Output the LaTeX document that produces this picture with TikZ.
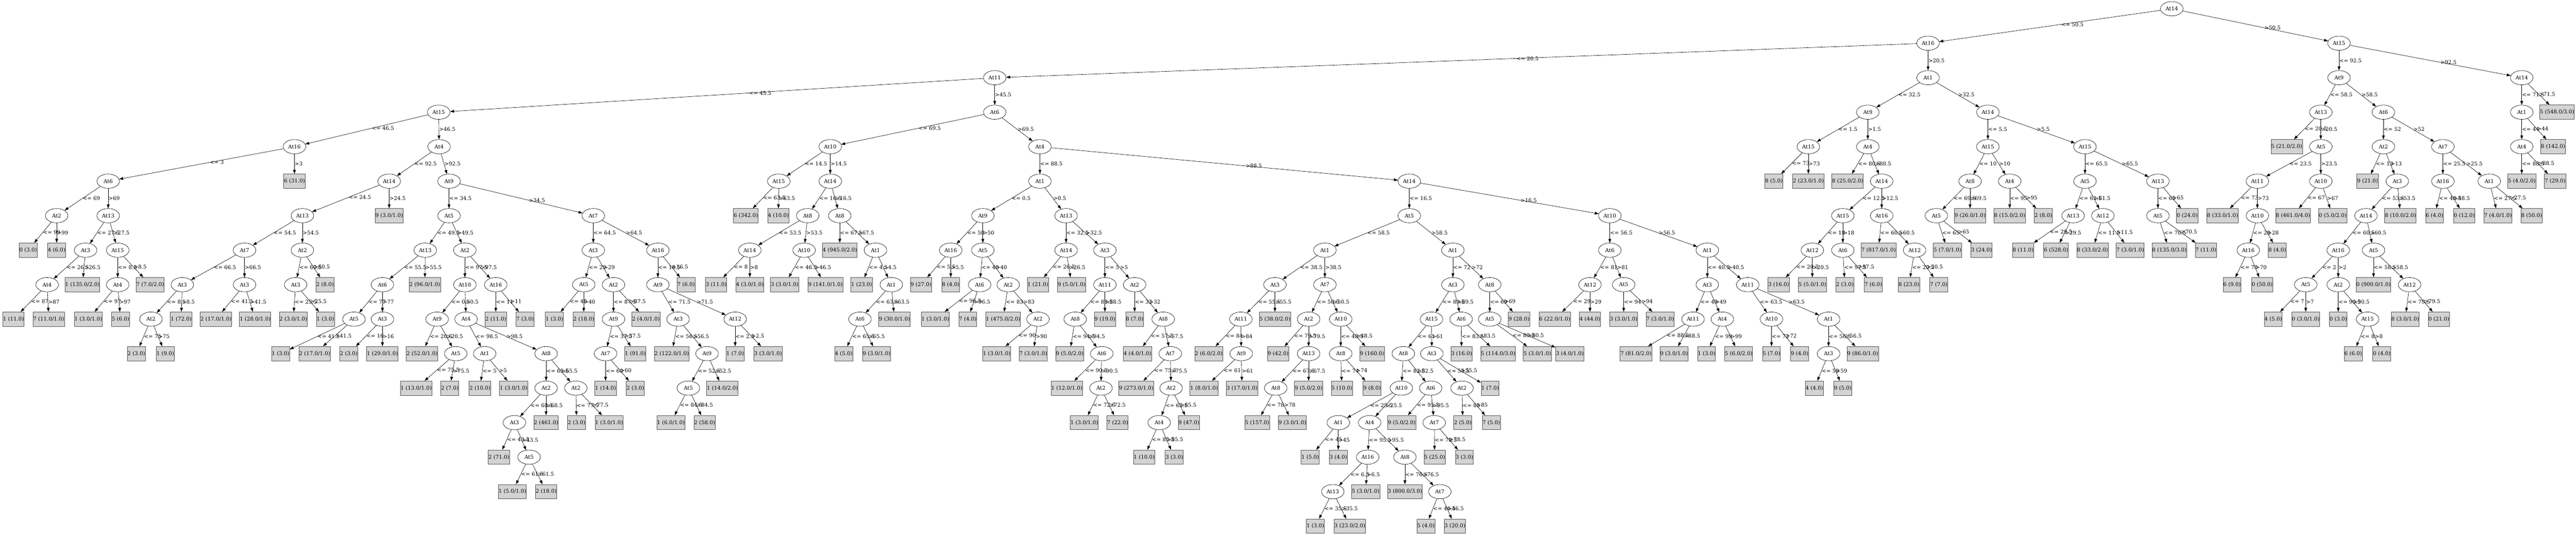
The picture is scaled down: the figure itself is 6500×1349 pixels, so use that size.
\documentclass[tikz,border=0pt]{standalone}
\usepackage{fontspec}
\setmainfont{DejaVu Serif}
\newfontfamily\timesf{Liberation Serif}
\usetikzlibrary{arrows.meta,shapes.geometric}
\definecolor{tgray}{HTML}{D3D3D3}
\definecolor{tborder}{HTML}{555555}
\newlength\tbw
\tikzset{
 tfont/.style={font=\fontsize{13.3pt}{15pt}\selectfont},
 tnode/.style={ellipse,draw=black,line width=0.8pt,minimum width=57pt,minimum height=36pt,inner sep=0pt,tfont},
 tleaf/.style={rectangle,draw=tborder,line width=1.1pt,fill=tgray,minimum height=36pt,inner xsep=0.5pt,inner ysep=0pt,tfont},
 tedge/.style={draw=black,line width=0.8pt,-{Triangle[length=10pt,width=7pt]}},
 tlab/.style={anchor=west,inner sep=0.5pt,tfont},
}
\newcommand\TN[4]{\node[tnode] (#1) at (#2pt,{-(22+87*#3)*1pt}) {#4};}
\newcommand\TL[4]{\settowidth\tbw{\timesf\fontsize{14pt}{16pt}\selectfont #4}\node[tleaf,minimum width=\tbw+16pt] (#1) at (#2pt,{-(22+87*#3)*1pt}) {#4};}
\newcommand\TE[3]{\draw[tedge] (#1) -- node[tlab]{#3} (#2);}
\newcommand\TEP[4]{\draw[tedge] (#1) -- node[tlab,pos=#4]{#3} (#2);}
\begin{document}
\begin{tikzpicture}
\fill[white] (0,0) rectangle (6500pt,-1349pt);
\useasboundingbox (0,0) rectangle (6500pt,-1349pt);
% ---------------- nodes ----------------
\TN{r}{5480}{0}{At14}
\TN{a}{4865}{1}{At16}
\TN{a1}{2510}{2}{At11}
\TN{b}{1107}{3}{At15}
\TN{c}{743}{4}{At16}
\TN{d}{273}{5}{At6}
\TN{d1}{143}{6}{At2}
\TL{d1a}{71}{7}{0 (3.0)}
\TL{d1b}{143}{7}{4 (6.0)}
\TN{d2}{273}{6}{At13}
\TN{d2a}{216}{7}{At3}
\TN{d2a1}{119}{8}{At4}
\TL{d2a1a}{34}{9}{1 (11.0)}
\TL{d2a1b}{123}{9}{7 (11.0/1.0)}
\TL{d2a2}{208}{8}{1 (135.0/2.0)}
\TN{d2b}{297}{7}{At15}
\TN{d2b1}{297}{8}{At4}
\TL{d2b1a}{223}{9}{1 (3.0/1.0)}
\TL{d2b1b}{304}{9}{5 (6.0)}
\TL{d2b2}{379}{8}{7 (7.0/2.0)}
\TL{c2}{743}{5}{6 (31.0)}
\TN{e}{1108}{4}{At4}
\TN{f}{982}{5}{At14}
\TN{g}{763}{6}{At13}
\TN{g1}{617}{7}{At7}
\TN{g1a}{460}{8}{At3}
\TN{g1a1}{381}{9}{At2}
\TL{g1a1a}{344}{10}{2 (3.0)}
\TL{g1a1b}{417}{10}{1 (9.0)}
\TL{g1a2}{457}{9}{1 (72.0)}
\TN{g1b}{617}{8}{At3}
\TL{g1b1}{545}{9}{2 (17.0/1.0)}
\TL{g1b2}{644}{9}{1 (28.0/1.0)}
\TN{g2}{763}{7}{At2}
\TN{g2a}{746}{8}{At3}
\TL{g2a1}{740}{9}{2 (3.0/1.0)}
\TL{g2a2}{821}{9}{1 (3.0)}
\TL{g2b}{820}{8}{2 (8.0)}
\TL{f2}{982}{6}{9 (3.0/1.0)}
\TN{h}{1133}{5}{At9}
\TN{i}{1133}{6}{At5}
\TN{j}{1073}{7}{At13}
\TN{k}{965}{8}{At6}
\TN{k1}{893}{9}{At5}
\TL{k1a}{708}{10}{1 (3.0)}
\TL{k1b}{794}{10}{2 (17.0/1.0)}
\TN{k2}{965}{9}{At3}
\TL{k2a}{880}{10}{2 (3.0)}
\TL{k2b}{965}{10}{1 (29.0/1.0)}
\TL{j2}{1072}{8}{2 (96.0/1.0)}
\TN{l}{1173}{7}{At2}
\TN{m}{1173}{8}{At10}
\TN{m1}{1103}{9}{At9}
\TL{m1a}{1065}{10}{2 (52.0/1.0)}
\TN{m1b}{1150}{10}{At5}
\TL{m1b1}{1050}{11}{1 (13.0/1.0)}
\TL{m1b2}{1135}{11}{2 (7.0)}
\TN{m2}{1176}{9}{At4}
\TN{m2a}{1223}{10}{At1}
\TL{m2a1}{1211}{11}{2 (10.0)}
\TL{m2a2}{1296}{11}{1 (3.0/1.0)}
\TN{m2b}{1378}{10}{At8}
\TN{m2b1}{1378}{11}{At2}
\TN{m2b1a}{1298}{12}{At3}
\TL{m2b1a1}{1259}{13}{2 (71.0)}
\TN{m2b1a2}{1335}{13}{At5}
\TL{m2b1a2a}{1293}{14}{1 (5.0/1.0)}
\TL{m2b1a2b}{1378}{14}{2 (18.0)}
\TL{m2b1b}{1378}{12}{2 (461.0)}
\TN{m2b2}{1453}{11}{At2}
\TL{m2b2a}{1455}{12}{2 (3.0)}
\TL{m2b2b}{1537}{12}{1 (3.0/1.0)}
\TN{l2}{1251}{8}{At16}
\TL{l2a}{1251}{9}{2 (11.0)}
\TL{l2b}{1325}{9}{7 (3.0)}
\TN{n}{1497}{6}{At7}
\TN{n1}{1497}{7}{At3}
\TN{n1a}{1473}{8}{At5}
\TL{n1a1}{1399}{9}{1 (3.0)}
\TL{n1a2}{1473}{9}{2 (18.0)}
\TN{n1b}{1548}{8}{At2}
\TN{n1b1}{1548}{9}{At9}
\TN{n1b1a}{1528}{10}{At7}
\TL{n1b1a1}{1528}{11}{1 (14.0)}
\TL{n1b1a2}{1603}{11}{2 (3.0)}
\TL{n1b1b}{1603}{10}{1 (91.0)}
\TL{n1b2}{1630}{9}{2 (4.0/1.0)}
\TN{n2}{1660}{7}{At16}
\TN{n2a}{1660}{8}{At9}
\TN{n2a1}{1711}{9}{At3}
\TL{n2a1a}{1695}{10}{2 (122.0/1.0)}
\TN{n2a1b}{1784}{10}{At9}
\TN{n2a1b1}{1737}{11}{At5}
\TL{n2a1b1a}{1693}{12}{1 (6.0/1.0)}
\TL{n2a1b1b}{1778}{12}{2 (58.0)}
\TL{n2a1b2}{1823}{11}{1 (14.0/2.0)}
\TN{n2a2}{1855}{9}{At12}
\TL{n2a2a}{1855}{10}{1 (7.0)}
\TL{n2a2b}{1938}{10}{3 (3.0/1.0)}
\TL{n2b}{1731}{8}{7 (6.0)}
\TN{o}{2510}{3}{At6}
\TN{p}{2095}{4}{At10}
\TN{p1}{1965}{5}{At15}
\TL{p1a}{1882}{6}{6 (342.0)}
\TL{p1b}{1964}{6}{4 (10.0)}
\TN{p2}{2095}{5}{At14}
\TN{p2a}{2038}{6}{At8}
\TN{p2a1}{1892}{7}{At14}
\TL{p2a1a}{1807}{8}{3 (11.0)}
\TL{p2a1b}{1892}{8}{4 (3.0/1.0)}
\TN{p2a2}{2029}{7}{At10}
\TL{p2a2a}{1980}{8}{3 (3.0/1.0)}
\TL{p2a2b}{2083}{8}{9 (141.0/1.0)}
\TN{p2b}{2119}{6}{At8}
\TL{p2b1}{2119}{7}{4 (945.0/2.0)}
\TN{p2b2}{2209}{7}{At1}
\TL{p2b2a}{2174}{8}{1 (23.0)}
\TN{p2b2b}{2249}{8}{At1}
\TN{p2b2b1}{2170}{9}{At6}
\TL{p2b2b1a}{2129}{10}{4 (5.0)}
\TL{p2b2b1b}{2212}{10}{9 (3.0/1.0)}
\TL{p2b2b2}{2257}{9}{9 (30.0/1.0)}
\TN{q}{2624}{4}{At4}
\TN{q1}{2624}{5}{At1}
\TN{q1a}{2480}{6}{At9}
\TN{q1a1}{2399}{7}{At16}
\TL{q1a1a}{2324}{8}{9 (27.0)}
\TL{q1a1b}{2399}{8}{8 (4.0)}
\TN{q1a2}{2480}{7}{At5}
\TN{q1a2a}{2472}{8}{At6}
\TL{q1a2a1}{2360}{9}{1 (3.0/1.0)}
\TL{q1a2a2}{2442}{9}{7 (4.0)}
\TN{q1a2b}{2544}{8}{At2}
\TL{q1a2b1}{2531}{9}{1 (475.0/2.0)}
\TN{q1a2b2}{2619}{9}{At2}
\TL{q1a2b2a}{2515}{10}{1 (3.0/1.0)}
\TL{q1a2b2b}{2607}{10}{7 (3.0/1.0)}
\TN{q1b}{2690}{6}{At13}
\TN{q1b1}{2690}{7}{At14}
\TL{q1b1a}{2619}{8}{1 (21.0)}
\TL{q1b1b}{2704}{8}{9 (5.0/1.0)}
\TN{q1b2}{2788}{7}{At3}
\TN{q1b2a}{2788}{8}{At11}
\TN{q1b2a1}{2713}{9}{At8}
\TL{q1b2a1a}{2699}{10}{9 (5.0/2.0)}
\TN{q1b2a1b}{2780}{10}{At6}
\TL{q1b2a1b1}{2692}{11}{1 (12.0/1.0)}
\TN{q1b2a1b2}{2778}{11}{At2}
\TL{q1b2a1b2a}{2736}{12}{1 (3.0/1.0)}
\TL{q1b2a1b2b}{2820}{12}{7 (22.0)}
\TL{q1b2a2}{2788}{9}{9 (19.0)}
\TN{q1b2b}{2863}{8}{At2}
\TL{q1b2b1}{2863}{9}{8 (7.0)}
\TN{q1b2b2}{2935}{9}{At8}
\TL{q1b2b2a}{2870}{10}{4 (4.0/1.0)}
\TN{q1b2b2b}{2953}{10}{At7}
\TL{q1b2b2b1}{2867}{11}{9 (273.0/1.0)}
\TN{q1b2b2b2}{2955}{11}{At2}
\TN{q1b2b2b2a}{2925}{12}{At4}
\TL{q1b2b2b2a1}{2887}{13}{1 (10.0)}
\TL{q1b2b2b2a2}{2963}{13}{3 (3.0)}
\TL{q1b2b2b2b}{3000}{12}{9 (47.0)}
\TN{s}{3556}{5}{At14}
\TN{t}{3556}{6}{At5}
\TN{t1}{3343}{7}{At1}
\TN{t1a}{3217}{8}{At3}
\TN{t1a1}{3131}{9}{At11}
\TL{t1a1a}{3050}{10}{2 (6.0/2.0)}
\TN{t1a1b}{3132}{10}{At9}
\TL{t1a1b1}{3038}{11}{1 (8.0/1.0)}
\TL{t1a1b2}{3134}{11}{3 (17.0/1.0)}
\TL{t1a2}{3217}{9}{5 (38.0/2.0)}
\TN{t1b}{3343}{8}{At7}
\TN{t1b1}{3302}{9}{At2}
\TL{t1b1a}{3225}{10}{9 (42.0)}
\TN{t1b1b}{3302}{10}{At13}
\TN{t1b1b1}{3219}{11}{At8}
\TL{t1b1b1a}{3172}{12}{5 (157.0)}
\TL{t1b1b1b}{3261}{12}{9 (3.0/1.0)}
\TL{t1b1b2}{3302}{11}{9 (5.0/2.0)}
\TN{t1b2}{3383}{9}{At10}
\TN{t1b2a}{3383}{10}{At8}
\TL{t1b2a1}{3386}{11}{5 (10.0)}
\TL{t1b2a2}{3462}{11}{9 (8.0)}
\TL{t1b2b}{3462}{10}{9 (160.0)}
\TN{t2}{3666}{7}{At1}
\TN{t2a}{3666}{8}{At3}
\TN{t2a1}{3612}{9}{At15}
\TN{t2a1a}{3541}{10}{At8}
\TN{t2a1a1}{3536}{11}{At10}
\TN{t2a1a1a}{3377}{12}{At1}
\TL{t2a1a1a1}{3306}{13}{1 (5.0)}
\TL{t2a1a1a2}{3377}{13}{3 (4.0)}
\TN{t2a1a1b}{3456}{12}{At4}
\TN{t2a1a1b1}{3451}{13}{At16}
\TN{t2a1a1b1a}{3363}{14}{At13}
\TL{t2a1a1b1a1}{3319}{15}{1 (3.0)}
\TL{t2a1a1b1a2}{3406}{15}{3 (23.0/2.0)}
\TL{t2a1a1b1b}{3446}{14}{5 (3.0/1.0)}
\TN{t2a1a1b2}{3545}{13}{At8}
\TL{t2a1a1b2a}{3545}{14}{3 (800.0/3.0)}
\TN{t2a1a1b2b}{3633}{14}{At7}
\TL{t2a1a1b2b1}{3598}{15}{5 (4.0)}
\TL{t2a1a1b2b2}{3671}{15}{3 (20.0)}
\TN{t2a1a2}{3610}{11}{At6}
\TL{t2a1a2a}{3537}{12}{9 (5.0/2.0)}
\TN{t2a1a2b}{3619}{12}{At7}
\TL{t2a1a2b1}{3620}{13}{5 (25.0)}
\TL{t2a1a2b2}{3695}{13}{3 (3.0)}
\TN{t2a1b}{3613}{10}{At3}
\TN{t2a1b1}{3689}{11}{At2}
\TL{t2a1b1a}{3691}{12}{2 (5.0)}
\TL{t2a1b1b}{3763}{12}{7 (5.0)}
\TL{t2a1b2}{3760}{11}{1 (7.0)}
\TN{t2a2}{3687}{9}{At6}
\TL{t2a2a}{3688}{10}{3 (16.0)}
\TL{t2a2b}{3780}{10}{5 (114.0/3.0)}
\TN{t2b}{3759}{8}{At8}
\TN{t2b1}{3759}{9}{At5}
\TL{t2b1a}{3879}{10}{5 (3.0/1.0)}
\TL{t2b1b}{3961}{10}{3 (4.0/1.0)}
\TL{t2b2}{3833}{9}{9 (28.0)}
\TN{u}{4062}{6}{At10}
\TN{u1}{4062}{7}{At6}
\TN{u1a}{4012}{8}{At12}
\TL{u1a1}{3923}{9}{6 (22.0/1.0)}
\TL{u1a2}{4012}{9}{4 (44.0)}
\TN{u1b}{4097}{8}{At5}
\TL{u1b1}{4097}{9}{3 (3.0/1.0)}
\TL{u1b2}{4189}{9}{7 (3.0/1.0)}
\TN{u2}{4308}{7}{At1}
\TN{u2a}{4308}{8}{At3}
\TN{u2a1}{4272}{9}{At11}
\TL{u2a1a}{4128}{10}{7 (81.0/2.0)}
\TL{u2a1b}{4224}{10}{9 (3.0/1.0)}
\TN{u2a2}{4346}{9}{At4}
\TL{u2a2a}{4306}{10}{1 (3.0)}
\TL{u2a2b}{4387}{10}{5 (6.0/2.0)}
\TN{u2b}{4410}{8}{At11}
\TN{u2b1}{4470}{9}{At10}
\TL{u2b1a}{4470}{10}{5 (7.0)}
\TL{u2b1b}{4541}{10}{9 (4.0)}
\TN{u2b2}{4614}{9}{At1}
\TN{u2b2a}{4614}{10}{At3}
\TL{u2b2a1}{4578}{11}{4 (4.0)}
\TL{u2b2a2}{4650}{11}{9 (5.0)}
\TL{u2b2b}{4700}{10}{9 (86.0/1.0)}
\TN{v}{4865}{2}{At1}
\TN{w}{4713}{3}{At9}
\TN{w1}{4563}{4}{At15}
\TL{w1a}{4476}{5}{8 (5.0)}
\TL{w1b}{4563}{5}{2 (23.0/1.0)}
\TN{w2}{4713}{4}{At4}
\TL{w2a}{4662}{5}{8 (25.0/2.0)}
\TN{w2b}{4748}{5}{At14}
\TN{w2b1}{4650}{6}{At15}
\TN{w2b1a}{4573}{7}{At12}
\TL{w2b1a1}{4488}{8}{3 (16.0)}
\TL{w2b1a2}{4573}{8}{5 (5.0/1.0)}
\TN{w2b1b}{4650}{7}{At6}
\TL{w2b1b1}{4655}{8}{2 (3.0)}
\TL{w2b1b2}{4727}{8}{7 (6.0)}
\TN{w2b2}{4748}{6}{At16}
\TL{w2b2a}{4740}{7}{7 (817.0/1.0)}
\TN{w2b2b}{4831}{7}{At12}
\TL{w2b2b1}{4817}{8}{8 (23.0)}
\TL{w2b2b2}{4892}{8}{7 (7.0)}
\TN{x}{5016}{3}{At14}
\TN{x1}{5016}{4}{At15}
\TN{x1a}{4971}{5}{At8}
\TN{x1a1}{4886}{6}{At5}
\TL{x1a1a}{4914}{7}{5 (7.0/1.0)}
\TL{x1a1b}{5000}{7}{3 (24.0)}
\TL{x1a2}{4971}{6}{9 (26.0/1.0)}
\TN{x1b}{5071}{5}{At4}
\TL{x1b1}{5071}{6}{8 (15.0/2.0)}
\TL{x1b2}{5156}{6}{2 (8.0)}
\TN{x2}{5261}{4}{At15}
\TN{x2a}{5261}{5}{At5}
\TN{x2a1}{5231}{6}{At13}
\TL{x2a1a}{5105}{7}{8 (11.0)}
\TL{x2a1b}{5188}{7}{6 (528.0)}
\TN{x2a2}{5306}{6}{At12}
\TL{x2a2a}{5280}{7}{8 (33.0/2.0)}
\TL{x2a2b}{5375}{7}{7 (3.0/1.0)}
\TN{x2b}{5445}{5}{At13}
\TN{x2b1}{5445}{6}{At5}
\TL{x2b1a}{5474}{7}{8 (135.0/3.0)}
\TL{x2b1b}{5566}{7}{7 (11.0)}
\TL{x2b2}{5519}{6}{0 (24.0)}
\TN{y}{5902}{1}{At15}
\TN{y1}{5902}{2}{At9}
\TN{y1a}{5856}{3}{At13}
\TL{y1a1}{5770}{4}{5 (21.0/2.0)}
\TN{y1a2}{5856}{4}{At5}
\TN{y1a2a}{5696}{5}{At11}
\TL{y1a2a1}{5608}{6}{8 (33.0/1.0)}
\TN{y1a2a2}{5696}{6}{At10}
\TN{y1a2a2a}{5673}{7}{At16}
\TL{y1a2a2a1}{5632}{8}{6 (9.0)}
\TL{y1a2a2a2}{5708}{8}{0 (50.0)}
\TL{y1a2a2b}{5746}{7}{8 (4.0)}
\TN{y1a2b}{5856}{5}{At10}
\TL{y1a2b1}{5786}{6}{8 (461.0/4.0)}
\TL{y1a2b2}{5886}{6}{0 (5.0/2.0)}
\TN{y1b}{6014}{3}{At6}
\TN{y1b1}{6014}{4}{At2}
\TL{y1b1a}{5974}{5}{9 (21.0)}
\TN{y1b1b}{6049}{5}{At3}
\TN{y1b1b1}{5970}{6}{At14}
\TN{y1b1b1a}{5900}{7}{At16}
\TN{y1b1b1a1}{5818}{8}{At5}
\TL{y1b1b1a1a}{5736}{9}{4 (5.0)}
\TL{y1b1b1a1b}{5818}{9}{0 (3.0/1.0)}
\TN{y1b1b1a2}{5900}{8}{At2}
\TL{y1b1b1a2a}{5900}{9}{0 (3.0)}
\TN{y1b1b1a2b}{5974}{9}{At15}
\TL{y1b1b1a2b1}{5938}{10}{6 (6.0)}
\TL{y1b1b1a2b2}{6010}{10}{0 (4.0)}
\TN{y1b1b1b}{5989}{7}{At5}
\TL{y1b1b1b1}{5989}{8}{0 (900.0/1.0)}
\TN{y1b1b1b2}{6080}{8}{At12}
\TL{y1b1b1b2a}{6069}{9}{8 (3.0/1.0)}
\TL{y1b1b1b2b}{6154}{9}{0 (21.0)}
\TL{y1b1b2}{6057}{6}{8 (10.0/2.0)}
\TN{y1b2}{6164}{4}{At7}
\TN{y1b2a}{6164}{5}{At16}
\TL{y1b2a1}{6143}{6}{6 (4.0)}
\TL{y1b2a2}{6218}{6}{0 (12.0)}
\TN{y1b2b}{6281}{5}{At1}
\TL{y1b2b1}{6303}{6}{7 (4.0/1.0)}
\TL{y1b2b2}{6388}{6}{8 (50.0)}
\TN{y2}{6363}{2}{At14}
\TN{y2a}{6363}{3}{At1}
\TN{y2a1}{6363}{4}{At4}
\TL{y2a1a}{6363}{5}{5 (4.0/2.0)}
\TL{y2a1b}{6447}{5}{7 (29.0)}
\TL{y2a2}{6442}{4}{8 (142.0)}
\TL{y2b}{6452}{3}{5 (548.0/3.0)}
% ---------------- edges ----------------
\TEP{r}{a}{<= 50.5}{0.45}
\TEP{r}{y}{>50.5}{0.56}
\TEP{a}{a1}{<= 20.5}{0.44}
\TE{a}{v}{>20.5}
\TEP{a1}{b}{<= 45.5}{0.44}
\TE{a1}{o}{>45.5}
\TEP{b}{c}{<= 46.5}{0.46}
\TE{b}{e}{>46.5}
\TEP{c}{d}{<= 3}{0.45}
\TE{c}{c2}{>3}
\TE{d}{d1}{<= 69}
\TE{d}{d2}{>69}
\TE{d1}{d1a}{<= 99}
\TE{d1}{d1b}{>99}
\TE{d2}{d2a}{<= 27.5}
\TE{d2}{d2b}{>27.5}
\TE{d2a}{d2a1}{<= 26.5}
\TE{d2a}{d2a2}{>26.5}
\TE{d2a1}{d2a1a}{<= 87}
\TE{d2a1}{d2a1b}{>87}
\TE{d2b}{d2b1}{<= 8.5}
\TE{d2b}{d2b2}{>8.5}
\TE{d2b1}{d2b1a}{<= 97}
\TE{d2b1}{d2b1b}{>97}
\TE{e}{f}{<= 92.5}
\TE{e}{h}{>92.5}
\TEP{f}{g}{<= 24.5}{0.46}
\TE{f}{f2}{>24.5}
\TE{g}{g1}{<= 54.5}
\TE{g}{g2}{>54.5}
\TE{g1}{g1a}{<= 66.5}
\TE{g1}{g1b}{>66.5}
\TE{g1a}{g1a1}{<= 8.5}
\TE{g1a}{g1a2}{>8.5}
\TE{g1a1}{g1a1a}{<= 75}
\TE{g1a1}{g1a1b}{>75}
\TE{g1b}{g1b1}{<= 41.5}
\TE{g1b}{g1b2}{>41.5}
\TE{g2}{g2a}{<= 60.5}
\TE{g2}{g2b}{>60.5}
\TE{g2a}{g2a1}{<= 25.5}
\TE{g2a}{g2a2}{>25.5}
\TE{h}{i}{<= 34.5}
\TEP{h}{n}{>34.5}{0.56}
\TE{i}{j}{<= 49.5}
\TE{i}{l}{>49.5}
\TE{j}{k}{<= 55.5}
\TE{j}{j2}{>55.5}
\TE{k}{k1}{<= 77}
\TE{k}{k2}{>77}
\TE{k1}{k1a}{<= 41.5}
\TE{k1}{k1b}{>41.5}
\TE{k2}{k2a}{<= 16}
\TE{k2}{k2b}{>16}
\TE{l}{m}{<= 97.5}
\TE{l}{l2}{>97.5}
\TE{m}{m1}{<= 0.5}
\TE{m}{m2}{>0.5}
\TE{m1}{m1a}{<= 20.5}
\TE{m1}{m1b}{>20.5}
\TE{m1b}{m1b1}{<= 75.5}
\TE{m1b}{m1b2}{>75.5}
\TE{m2}{m2a}{<= 98.5}
\TE{m2}{m2b}{>98.5}
\TE{m2a}{m2a1}{<= 5}
\TE{m2a}{m2a2}{>5}
\TE{m2b}{m2b1}{<= 65.5}
\TE{m2b}{m2b2}{>65.5}
\TE{m2b1}{m2b1a}{<= 68.5}
\TE{m2b1}{m2b1b}{>68.5}
\TE{m2b1a}{m2b1a1}{<= 43.5}
\TE{m2b1a}{m2b1a2}{>43.5}
\TE{m2b1a2}{m2b1a2a}{<= 61.5}
\TE{m2b1a2}{m2b1a2b}{>61.5}
\TE{m2b2}{m2b2a}{<= 77.5}
\TE{m2b2}{m2b2b}{>77.5}
\TE{l2}{l2a}{<= 11}
\TE{l2}{l2b}{>11}
\TE{n}{n1}{<= 64.5}
\TE{n}{n2}{>64.5}
\TE{n1}{n1a}{<= 29}
\TE{n1}{n1b}{>29}
\TE{n1a}{n1a1}{<= 40}
\TE{n1a}{n1a2}{>40}
\TE{n1b}{n1b1}{<= 87.5}
\TE{n1b}{n1b2}{>87.5}
\TE{n1b1}{n1b1a}{<= 37.5}
\TE{n1b1}{n1b1b}{>37.5}
\TE{n1b1a}{n1b1a1}{<= 60}
\TE{n1b1a}{n1b1a2}{>60}
\TE{n2}{n2a}{<= 16.5}
\TE{n2}{n2b}{>16.5}
\TE{n2a}{n2a1}{<= 71.5}
\TE{n2a}{n2a2}{>71.5}
\TE{n2a1}{n2a1a}{<= 56.5}
\TE{n2a1}{n2a1b}{>56.5}
\TE{n2a1b}{n2a1b1}{<= 52.5}
\TE{n2a1b}{n2a1b2}{>52.5}
\TE{n2a1b1}{n2a1b1a}{<= 84.5}
\TE{n2a1b1}{n2a1b1b}{>84.5}
\TE{n2a2}{n2a2a}{<= 2.5}
\TE{n2a2}{n2a2b}{>2.5}
\TEP{o}{p}{<= 69.5}{0.46}
\TE{o}{q}{>69.5}
\TE{p}{p1}{<= 14.5}
\TE{p}{p2}{>14.5}
\TE{p1}{p1a}{<= 63.5}
\TE{p1}{p1b}{>63.5}
\TE{p2}{p2a}{<= 16.5}
\TE{p2}{p2b}{>16.5}
\TE{p2a}{p2a1}{<= 53.5}
\TE{p2a}{p2a2}{>53.5}
\TE{p2a1}{p2a1a}{<= 8}
\TE{p2a1}{p2a1b}{>8}
\TE{p2a2}{p2a2a}{<= 46.5}
\TE{p2a2}{p2a2b}{>46.5}
\TE{p2b}{p2b1}{<= 67.5}
\TE{p2b}{p2b2}{>67.5}
\TE{p2b2}{p2b2a}{<= 4.5}
\TE{p2b2}{p2b2b}{>4.5}
\TE{p2b2b}{p2b2b1}{<= 63.5}
\TE{p2b2b}{p2b2b2}{>63.5}
\TE{p2b2b1}{p2b2b1a}{<= 65.5}
\TE{p2b2b1}{p2b2b1b}{>65.5}
\TE{q}{q1}{<= 88.5}
\TEP{q}{s}{>88.5}{0.56}
\TE{q1}{q1a}{<= 0.5}
\TE{q1}{q1b}{>0.5}
\TE{q1a}{q1a1}{<= 50}
\TE{q1a}{q1a2}{>50}
\TE{q1a1}{q1a1a}{<= 5.5}
\TE{q1a1}{q1a1b}{>5.5}
\TE{q1a2}{q1a2a}{<= 40}
\TE{q1a2}{q1a2b}{>40}
\TE{q1a2a}{q1a2a1}{<= 96.5}
\TE{q1a2a}{q1a2a2}{>96.5}
\TE{q1a2b}{q1a2b1}{<= 83}
\TE{q1a2b}{q1a2b2}{>83}
\TE{q1a2b2}{q1a2b2a}{<= 90}
\TE{q1a2b2}{q1a2b2b}{>90}
\TE{q1b}{q1b1}{<= 32.5}
\TE{q1b}{q1b2}{>32.5}
\TE{q1b1}{q1b1a}{<= 26.5}
\TE{q1b1}{q1b1b}{>26.5}
\TE{q1b2}{q1b2a}{<= 5}
\TE{q1b2}{q1b2b}{>5}
\TE{q1b2a}{q1b2a1}{<= 88.5}
\TE{q1b2a}{q1b2a2}{>88.5}
\TE{q1b2a1}{q1b2a1a}{<= 94.5}
\TE{q1b2a1}{q1b2a1b}{>94.5}
\TE{q1b2a1b}{q1b2a1b1}{<= 90.5}
\TE{q1b2a1b}{q1b2a1b2}{>90.5}
\TE{q1b2a1b2}{q1b2a1b2a}{<= 72.5}
\TE{q1b2a1b2}{q1b2a1b2b}{>72.5}
\TE{q1b2b}{q1b2b1}{<= 32}
\TE{q1b2b}{q1b2b2}{>32}
\TE{q1b2b2}{q1b2b2a}{<= 57.5}
\TE{q1b2b2}{q1b2b2b}{>57.5}
\TE{q1b2b2b}{q1b2b2b1}{<= 75.5}
\TE{q1b2b2b}{q1b2b2b2}{>75.5}
\TE{q1b2b2b2}{q1b2b2b2a}{<= 65.5}
\TE{q1b2b2b2}{q1b2b2b2b}{>65.5}
\TE{q1b2b2b2a}{q1b2b2b2a1}{<= 85.5}
\TE{q1b2b2b2a}{q1b2b2b2a2}{>85.5}
\TE{s}{t}{<= 16.5}
\TEP{s}{u}{>16.5}{0.56}
\TE{t}{t1}{<= 58.5}
\TE{t}{t2}{>58.5}
\TE{t1}{t1a}{<= 38.5}
\TE{t1}{t1b}{>38.5}
\TE{t1a}{t1a1}{<= 55.5}
\TE{t1a}{t1a2}{>55.5}
\TE{t1a1}{t1a1a}{<= 84}
\TE{t1a1}{t1a1b}{>84}
\TE{t1a1b}{t1a1b1}{<= 61}
\TE{t1a1b}{t1a1b2}{>61}
\TE{t1b}{t1b1}{<= 50.5}
\TE{t1b}{t1b2}{>50.5}
\TE{t1b1}{t1b1a}{<= 79.5}
\TE{t1b1}{t1b1b}{>79.5}
\TE{t1b1b}{t1b1b1}{<= 67.5}
\TE{t1b1b}{t1b1b2}{>67.5}
\TE{t1b1b1}{t1b1b1a}{<= 78}
\TE{t1b1b1}{t1b1b1b}{>78}
\TE{t1b2}{t1b2a}{<= 48.5}
\TE{t1b2}{t1b2b}{>48.5}
\TE{t1b2a}{t1b2a1}{<= 74}
\TE{t1b2a}{t1b2a2}{>74}
\TE{t2}{t2a}{<= 72}
\TE{t2}{t2b}{>72}
\TE{t2a}{t2a1}{<= 89.5}
\TE{t2a}{t2a2}{>89.5}
\TE{t2a1}{t2a1a}{<= 61}
\TE{t2a1}{t2a1b}{>61}
\TE{t2a1a}{t2a1a1}{<= 82.5}
\TE{t2a1a}{t2a1a2}{>82.5}
\TE{t2a1a1}{t2a1a1a}{<= 25.5}
\TE{t2a1a1}{t2a1a1b}{>25.5}
\TE{t2a1a1a}{t2a1a1a1}{<= 45}
\TE{t2a1a1a}{t2a1a1a2}{>45}
\TE{t2a1a1b}{t2a1a1b1}{<= 95.5}
\TE{t2a1a1b}{t2a1a1b2}{>95.5}
\TE{t2a1a1b1}{t2a1a1b1a}{<= 6.5}
\TE{t2a1a1b1}{t2a1a1b1b}{>6.5}
\TE{t2a1a1b1a}{t2a1a1b1a1}{<= 35.5}
\TE{t2a1a1b1a}{t2a1a1b1a2}{>35.5}
\TE{t2a1a1b2}{t2a1a1b2a}{<= 76.5}
\TE{t2a1a1b2}{t2a1a1b2b}{>76.5}
\TE{t2a1a1b2b}{t2a1a1b2b1}{<= 46.5}
\TE{t2a1a1b2b}{t2a1a1b2b2}{>46.5}
\TE{t2a1a2}{t2a1a2a}{<= 95.5}
\TE{t2a1a2}{t2a1a2b}{>95.5}
\TE{t2a1a2b}{t2a1a2b1}{<= 78.5}
\TE{t2a1a2b}{t2a1a2b2}{>78.5}
\TE{t2a1b}{t2a1b1}{<= 55.5}
\TE{t2a1b}{t2a1b2}{>55.5}
\TE{t2a1b1}{t2a1b1a}{<= 85}
\TE{t2a1b1}{t2a1b1b}{>85}
\TE{t2a2}{t2a2a}{<= 83.5}
\TE{t2a2}{t2a2b}{>83.5}
\TE{t2b}{t2b1}{<= 69}
\TE{t2b}{t2b2}{>69}
\TE{t2b1}{t2b1a}{<= 80.5}
\TE{t2b1}{t2b1b}{>80.5}
\TE{u}{u1}{<= 56.5}
\TE{u}{u2}{>56.5}
\TE{u1}{u1a}{<= 81}
\TE{u1}{u1b}{>81}
\TE{u1a}{u1a1}{<= 29}
\TE{u1a}{u1a2}{>29}
\TE{u1b}{u1b1}{<= 94}
\TE{u1b}{u1b2}{>94}
\TE{u2}{u2a}{<= 40.5}
\TE{u2}{u2b}{>40.5}
\TE{u2a}{u2a1}{<= 49}
\TE{u2a}{u2a2}{>49}
\TE{u2a1}{u2a1a}{<= 88.5}
\TE{u2a1}{u2a1b}{>88.5}
\TE{u2a2}{u2a2a}{<= 99}
\TE{u2a2}{u2a2b}{>99}
\TE{u2b}{u2b1}{<= 63.5}
\TE{u2b}{u2b2}{>63.5}
\TE{u2b1}{u2b1a}{<= 72}
\TE{u2b1}{u2b1b}{>72}
\TE{u2b2}{u2b2a}{<= 56.5}
\TE{u2b2}{u2b2b}{>56.5}
\TE{u2b2a}{u2b2a1}{<= 59}
\TE{u2b2a}{u2b2a2}{>59}
\TE{v}{w}{<= 32.5}
\TE{v}{x}{>32.5}
\TE{w}{w1}{<= 1.5}
\TE{w}{w2}{>1.5}
\TE{w1}{w1a}{<= 73}
\TE{w1}{w1b}{>73}
\TE{w2}{w2a}{<= 80.5}
\TE{w2}{w2b}{>80.5}
\TE{w2b}{w2b1}{<= 12.5}
\TE{w2b}{w2b2}{>12.5}
\TE{w2b1}{w2b1a}{<= 18}
\TE{w2b1}{w2b1b}{>18}
\TE{w2b1a}{w2b1a1}{<= 20.5}
\TE{w2b1a}{w2b1a2}{>20.5}
\TE{w2b1b}{w2b1b1}{<= 97.5}
\TE{w2b1b}{w2b1b2}{>97.5}
\TE{w2b2}{w2b2a}{<= 60.5}
\TE{w2b2}{w2b2b}{>60.5}
\TE{w2b2b}{w2b2b1}{<= 20.5}
\TE{w2b2b}{w2b2b2}{>20.5}
\TE{x}{x1}{<= 5.5}
\TE{x}{x2}{>5.5}
\TE{x1}{x1a}{<= 10}
\TE{x1}{x1b}{>10}
\TE{x1a}{x1a1}{<= 69.5}
\TE{x1a}{x1a2}{>69.5}
\TE{x1a1}{x1a1a}{<= 65}
\TE{x1a1}{x1a1b}{>65}
\TE{x1b}{x1b1}{<= 95}
\TE{x1b}{x1b2}{>95}
\TE{x2}{x2a}{<= 65.5}
\TE{x2}{x2b}{>65.5}
\TE{x2a}{x2a1}{<= 61.5}
\TE{x2a}{x2a2}{>61.5}
\TE{x2a1}{x2a1a}{<= 29.5}
\TE{x2a1}{x2a1b}{>29.5}
\TE{x2a2}{x2a2a}{<= 11.5}
\TE{x2a2}{x2a2b}{>11.5}
\TE{x2b}{x2b1}{<= 65}
\TE{x2b}{x2b2}{>65}
\TE{x2b1}{x2b1a}{<= 70.5}
\TE{x2b1}{x2b1b}{>70.5}
\TE{y}{y1}{<= 92.5}
\TEP{y}{y2}{>92.5}{0.56}
\TE{y1}{y1a}{<= 58.5}
\TE{y1}{y1b}{>58.5}
\TE{y1a}{y1a1}{<= 20.5}
\TE{y1a}{y1a2}{>20.5}
\TE{y1a2}{y1a2a}{<= 23.5}
\TE{y1a2}{y1a2b}{>23.5}
\TE{y1a2a}{y1a2a1}{<= 73}
\TE{y1a2a}{y1a2a2}{>73}
\TE{y1a2a2}{y1a2a2a}{<= 28}
\TE{y1a2a2}{y1a2a2b}{>28}
\TE{y1a2a2a}{y1a2a2a1}{<= 70}
\TE{y1a2a2a}{y1a2a2a2}{>70}
\TE{y1a2b}{y1a2b1}{<= 67}
\TE{y1a2b}{y1a2b2}{>67}
\TE{y1b}{y1b1}{<= 52}
\TE{y1b}{y1b2}{>52}
\TE{y1b1}{y1b1a}{<= 13}
\TE{y1b1}{y1b1b}{>13}
\TE{y1b1b}{y1b1b1}{<= 53.5}
\TE{y1b1b}{y1b1b2}{>53.5}
\TE{y1b1b1}{y1b1b1a}{<= 60.5}
\TE{y1b1b1}{y1b1b1b}{>60.5}
\TE{y1b1b1a}{y1b1b1a1}{<= 2}
\TE{y1b1b1a}{y1b1b1a2}{>2}
\TE{y1b1b1a1}{y1b1b1a1a}{<= 7}
\TE{y1b1b1a1}{y1b1b1a1b}{>7}
\TE{y1b1b1a2}{y1b1b1a2a}{<= 90.5}
\TE{y1b1b1a2}{y1b1b1a2b}{>90.5}
\TE{y1b1b1a2b}{y1b1b1a2b1}{<= 8}
\TE{y1b1b1a2b}{y1b1b1a2b2}{>8}
\TE{y1b1b1b}{y1b1b1b1}{<= 58.5}
\TE{y1b1b1b}{y1b1b1b2}{>58.5}
\TE{y1b1b1b2}{y1b1b1b2a}{<= 79.5}
\TE{y1b1b1b2}{y1b1b1b2b}{>79.5}
\TE{y1b2}{y1b2a}{<= 25.5}
\TE{y1b2}{y1b2b}{>25.5}
\TE{y1b2a}{y1b2a1}{<= 48.5}
\TE{y1b2a}{y1b2a2}{>48.5}
\TE{y1b2b}{y1b2b1}{<= 27.5}
\TE{y1b2b}{y1b2b2}{>27.5}
\TE{y2}{y2a}{<= 71.5}
\TE{y2}{y2b}{>71.5}
\TE{y2a}{y2a1}{<= 44}
\TE{y2a}{y2a2}{>44}
\TE{y2a1}{y2a1a}{<= 88.5}
\TE{y2a1}{y2a1b}{>88.5}
\end{tikzpicture}
\end{document}
